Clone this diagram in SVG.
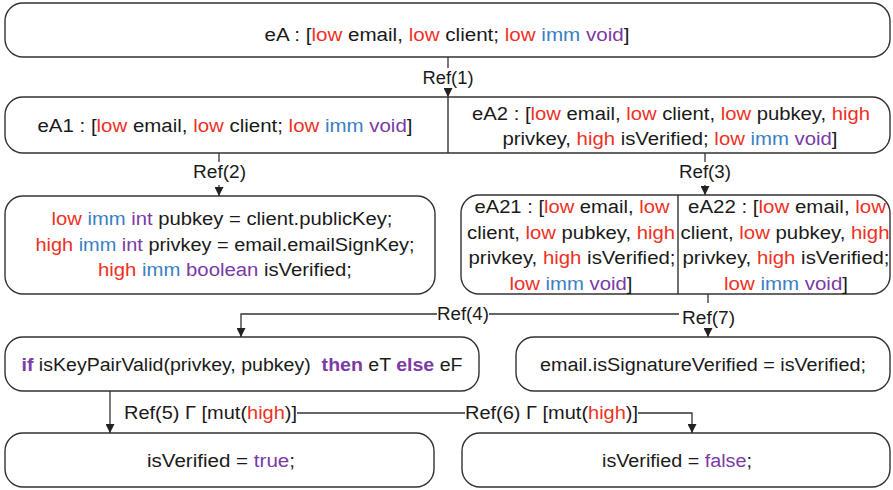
<svg xmlns="http://www.w3.org/2000/svg" width="893" height="490" viewBox="0 0 893 490">
<defs>
<marker id="arr" viewBox="0 0 10 10" refX="10" refY="5" markerWidth="9" markerHeight="9" markerUnits="userSpaceOnUse" orient="auto">
<path d="M0,0 L10,5 L0,10 z" fill="#222"/>
</marker>
<style>
.box{fill:#fff;stroke:#333;stroke-width:1.4}
.div{stroke:#333;stroke-width:1.4}
.t{font-family:"Liberation Sans",Arial,sans-serif;font-size:18px;fill:#1a1a1a;text-anchor:middle;white-space:pre}
.r{fill:#EE3124}
.b{fill:#3A80C4}
.p{fill:#7B3AA6}
.k{fill:#7B3AA6;font-weight:bold}
.c{fill:none;stroke:#333;stroke-width:1.3}
</style>
</defs>
<rect width="893" height="490" fill="#fff"/>

<g id="eA">
<rect class="box" x="5" y="3" width="885" height="54" rx="18"/>
<text class="t" x="447" y="41" textLength="365" lengthAdjust="spacingAndGlyphs">eA : [<tspan class="r">low</tspan> email, <tspan class="r">low</tspan> client; <tspan class="r">low</tspan> <tspan class="b">imm</tspan> <tspan class="p">void</tspan>]</text>
</g>

<g id="eA1-eA2">
<rect class="box" x="5" y="97" width="885" height="56" rx="18"/>
<line class="div" x1="448" y1="97" x2="448" y2="153"/>
<text class="t" x="225" y="132" textLength="375" lengthAdjust="spacingAndGlyphs">eA1 : [<tspan class="r">low</tspan> email, <tspan class="r">low</tspan> client; <tspan class="r">low</tspan> <tspan class="b">imm</tspan> <tspan class="p">void</tspan>]</text>
<text class="t" x="671" y="120" textLength="398" lengthAdjust="spacingAndGlyphs">eA2 : [<tspan class="r">low</tspan> email, <tspan class="r">low</tspan> client, <tspan class="r">low</tspan> pubkey, <tspan class="r">high</tspan></text>
<text class="t" x="670" y="145" textLength="335" lengthAdjust="spacingAndGlyphs">privkey, <tspan class="r">high</tspan> isVerified; <tspan class="r">low</tspan> <tspan class="b">imm</tspan> <tspan class="p">void</tspan>]</text>
</g>

<g id="decls">
<rect class="box" x="5" y="196" width="430" height="98" rx="18"/>
<text class="t" x="222" y="225" textLength="341" lengthAdjust="spacingAndGlyphs"><tspan class="r">low</tspan> <tspan class="b">imm</tspan> <tspan class="p">int</tspan> pubkey = client.publicKey;</text>
<text class="t" x="225" y="251" textLength="379" lengthAdjust="spacingAndGlyphs"><tspan class="r">high</tspan> <tspan class="b">imm</tspan> <tspan class="p">int</tspan> privkey = email.emailSignKey;</text>
<text class="t" x="225" y="276" textLength="254" lengthAdjust="spacingAndGlyphs"><tspan class="r">high</tspan> <tspan class="b">imm</tspan> <tspan class="p">boolean</tspan> isVerified;</text>
</g>

<g id="eA21-eA22">
<rect class="box" x="461" y="195" width="429" height="99" rx="18"/>
<line class="div" x1="678" y1="195" x2="678" y2="294"/>
<text class="t" x="572" y="213" textLength="195" lengthAdjust="spacingAndGlyphs">eA21 : [<tspan class="r">low</tspan> email, <tspan class="r">low</tspan></text>
<text class="t" x="571" y="239" textLength="208" lengthAdjust="spacingAndGlyphs">client, <tspan class="r">low</tspan> pubkey, <tspan class="r">high</tspan></text>
<text class="t" x="572" y="264" textLength="207" lengthAdjust="spacingAndGlyphs">privkey, <tspan class="r">high</tspan> isVerified;</text>
<text class="t" x="571" y="290" textLength="123" lengthAdjust="spacingAndGlyphs"><tspan class="r">low</tspan> <tspan class="b">imm</tspan> <tspan class="p">void</tspan>]</text>
<text class="t" x="787" y="213" textLength="198" lengthAdjust="spacingAndGlyphs">eA22 : [<tspan class="r">low</tspan> email, <tspan class="r">low</tspan></text>
<text class="t" x="785" y="239" textLength="209" lengthAdjust="spacingAndGlyphs">client, <tspan class="r">low</tspan> pubkey, <tspan class="r">high</tspan></text>
<text class="t" x="786" y="264" textLength="207" lengthAdjust="spacingAndGlyphs">privkey, <tspan class="r">high</tspan> isVerified;</text>
<text class="t" x="786" y="290" textLength="124" lengthAdjust="spacingAndGlyphs"><tspan class="r">low</tspan> <tspan class="b">imm</tspan> <tspan class="p">void</tspan>]</text>
</g>

<g id="ifnode">
<rect class="box" x="5" y="337" width="474" height="54" rx="18"/>
<text class="t" x="242" y="371" textLength="441" lengthAdjust="spacingAndGlyphs"><tspan class="k">if</tspan> isKeyPairValid(privkey, pubkey)  <tspan class="k">then</tspan> eT <tspan class="k">else</tspan> eF</text>
</g>

<g id="assign">
<rect class="box" x="516" y="337" width="374" height="54" rx="18"/>
<text class="t" x="703" y="371" textLength="326" lengthAdjust="spacingAndGlyphs">email.isSignatureVerified = isVerified;</text>
</g>

<g id="eT">
<rect class="box" x="5" y="433" width="429" height="54" rx="18"/>
<text class="t" x="221" y="467" textLength="148" lengthAdjust="spacingAndGlyphs">isVerified = <tspan class="p">true</tspan>;</text>
</g>

<g id="eF">
<rect class="box" x="462" y="433" width="428" height="54" rx="18"/>
<text class="t" x="677" y="467" textLength="150" lengthAdjust="spacingAndGlyphs">isVerified = <tspan class="p">false</tspan>;</text>
</g>

<g id="connectors">
<line class="c" x1="448" y1="57" x2="448" y2="68"/>
<text class="t" x="448" y="84" textLength="51" lengthAdjust="spacingAndGlyphs">Ref(1)</text>
<line class="c" x1="448" y1="89" x2="448" y2="97" marker-end="url(#arr)"/>

<line class="c" x1="219" y1="153" x2="219" y2="162"/>
<text class="t" x="219.5" y="178" textLength="53" lengthAdjust="spacingAndGlyphs">Ref(2)</text>
<line class="c" x1="219" y1="185" x2="219" y2="196" marker-end="url(#arr)"/>

<line class="c" x1="705" y1="153" x2="705" y2="162"/>
<text class="t" x="705" y="178" textLength="52" lengthAdjust="spacingAndGlyphs">Ref(3)</text>
<line class="c" x1="705" y1="185" x2="705" y2="195" marker-end="url(#arr)"/>

<line class="c" x1="708" y1="294" x2="708" y2="303"/>
<text class="t" x="708.5" y="324" textLength="53" lengthAdjust="spacingAndGlyphs">Ref(7)</text>
<line class="c" x1="708" y1="328" x2="708" y2="337" marker-end="url(#arr)"/>
<line class="c" x1="679" y1="314" x2="489" y2="314"/>
<text class="t" x="463" y="320" textLength="52" lengthAdjust="spacingAndGlyphs">Ref(4)</text>
<polyline class="c" points="437,314 241,314 241,337" marker-end="url(#arr)"/>

<line class="c" x1="110" y1="391" x2="110" y2="433" marker-end="url(#arr)"/>
<text class="t" x="210.5" y="419" textLength="173" lengthAdjust="spacingAndGlyphs">Ref(5) Γ [mut(<tspan class="r">high</tspan>)]</text>
<line class="c" x1="297" y1="413" x2="465" y2="413"/>
<text class="t" x="551.5" y="419" textLength="173" lengthAdjust="spacingAndGlyphs">Ref(6) Γ [mut(<tspan class="r">high</tspan>)]</text>
<polyline class="c" points="638,413 692,413 692,433" marker-end="url(#arr)"/>
</g>
</svg>
